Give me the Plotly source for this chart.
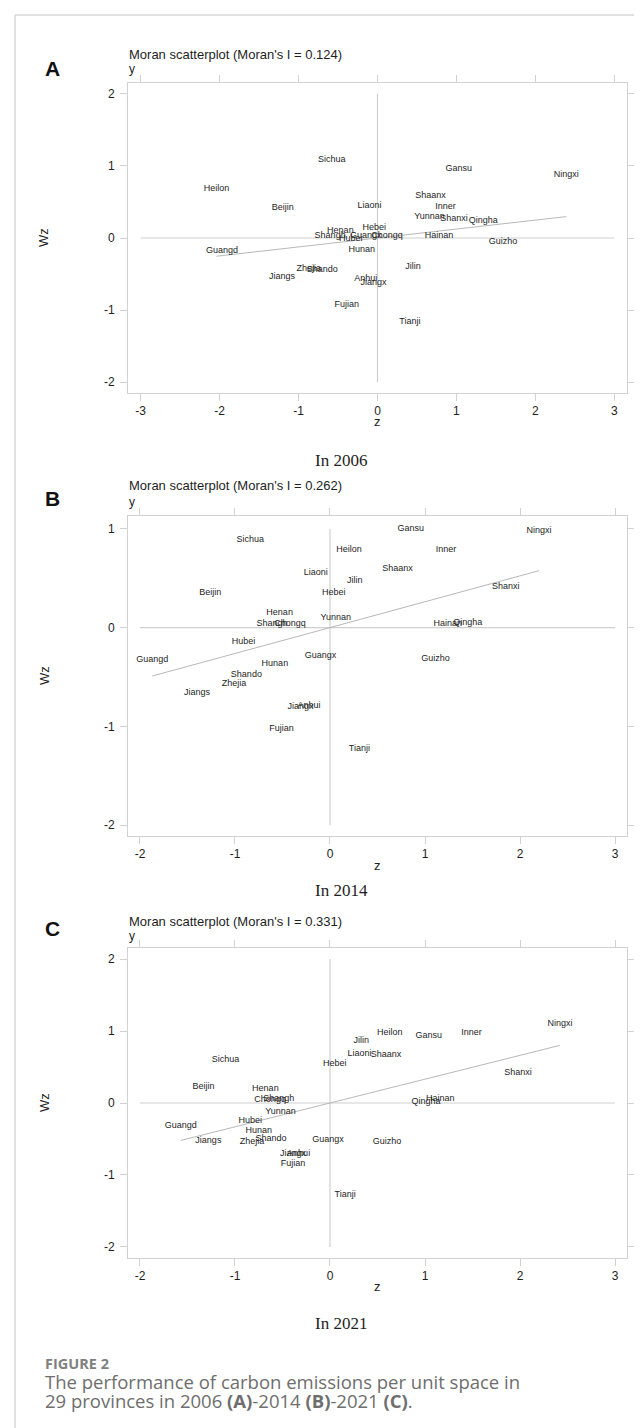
import plotly.graph_objects as go

W, H = 642, 1428

provinces = ["Beijin", "Tianji", "Hebei", "Shanxi", "Inner", "Liaoni", "Jilin", "Heilon",
             "Shangh", "Jiangs", "Zhejia", "Anhui", "Fujian", "Jiangx", "Shando", "Henan",
             "Hubei", "Hunan", "Guangd", "Guangx", "Hainan", "Chongq", "Sichua", "Guizho",
             "Yunnan", "Shaanx", "Gansu", "Qingha", "Ningxi"]

z_2006 = [-1.20, 0.41, -0.04, 0.97, 0.86, -0.10, 0.45, -2.04, -0.60, -1.21, -0.87, -0.15, -0.39, -0.05,
          -0.70, -0.47, -0.34, -0.20, -1.97, -0.15, 0.78, 0.12, -0.58, 1.59, 0.66, 0.67, 1.03, 1.34, 2.39]
wz_2006 = [0.42, -1.16, 0.14, 0.27, 0.44, 0.45, -0.40, 0.68, 0.03, -0.54, -0.42, -0.57, -0.92, -0.62,
           -0.44, 0.10, -0.01, -0.16, -0.17, 0.03, 0.03, 0.03, 1.08, -0.05, 0.30, 0.58, 0.96, 0.24, 0.88]

z_2014 = [-1.26, 0.31, 0.04, 1.85, 1.22, -0.15, 0.26, 0.20, -0.61, -1.40, -1.01, -0.22, -0.51, -0.31,
          -0.88, -0.53, -0.91, -0.58, -1.87, -0.10, 1.24, -0.42, -0.84, 1.11, 0.06, 0.71, 0.85, 1.45, 2.20]
wz_2014 = [0.35, -1.23, 0.35, 0.41, 0.79, 0.56, 0.47, 0.79, 0.04, -0.66, -0.57, -0.79, -1.02, -0.80,
           -0.48, 0.15, -0.14, -0.37, -0.33, -0.28, 0.04, 0.04, 0.89, -0.32, 0.10, 0.60, 1.00, 0.05, 0.98]

z_2021 = [-1.33, 0.16, 0.05, 1.98, 1.49, 0.31, 0.33, 0.63, -0.54, -1.28, -0.82, -0.33, -0.39, -0.39,
          -0.62, -0.68, -0.84, -0.75, -1.57, -0.02, 1.16, -0.63, -1.10, 0.60, -0.52, 0.59, 1.04, 1.01, 2.42]
wz_2021 = [0.22, -1.28, 0.55, 0.42, 0.97, 0.68, 0.86, 0.97, 0.06, -0.53, -0.54, -0.70, -0.85, -0.71,
           -0.50, 0.20, -0.25, -0.38, -0.32, -0.51, 0.06, 0.05, 0.60, -0.54, -0.12, 0.67, 0.94, 0.02, 1.10]

morans_i = [0.124, 0.262, 0.331]
years = ["2006", "2014", "2021"]
letters = ["A", "B", "C"]

x_ticks = [[-3, -2, -1, 0, 1, 2, 3], [-2, -1, 0, 1, 2, 3], [-2, -1, 0, 1, 2, 3]]
y_ticks = [[-2, -1, 0, 1, 2], [-2, -1, 0, 1], [-2, -1, 0, 1, 2]]
x_ranges = [[-3.16, 3.16], [-2.126, 3.126], [-2.126, 3.126]]
y_ranges = [[-2.15, 2.15], [-2.11, 1.13], [-2.153, 2.153]]

series = [(z_2006, wz_2006), (z_2014, wz_2014), (z_2021, wz_2021)]

# layout positions in pixels (from top): frame top/bottom, title, "y", letter, "z", year caption
frames = [(75, 385), (508, 828), (940, 1250)]
title_y = [47, 478, 914]
ylab_y = [61, 494, 928]
letter_y = [61, 490, 920]
zlab_y = [413, 857, 1278]
year_y = [452, 882, 1315]
FL, FR = 120, 619

FRAME_C = "#d2d2d2"
ZERO_C = "#d0d0d0"
FIT_C = "#b0b0b0"
TXT_C = "#1e1e1e"
FONT = "Liberation Sans, Arial, sans-serif"


def px(x):
    return x / W


def py(y):
    return 1 - y / H


def note(x, y, text, size, family=FONT, color=TXT_C, xanchor="left", angle=0):
    return dict(x=px(x), y=py(y), xref="paper", yref="paper", text=text, showarrow=False,
                xanchor=xanchor, yanchor="middle", textangle=angle,
                font=dict(family=family, size=size, color=color))


fig = go.Figure()
layout = dict(width=W, height=H, margin=dict(l=0, r=0, t=0, b=0),
              paper_bgcolor="white", plot_bgcolor="white", showlegend=False)
annotations = []
shapes = []

for i in range(3):
    sfx = "" if i == 0 else str(i + 1)
    xa, ya = "x" + sfx, "y" + sfx
    z, wz = series[i]
    fig.add_trace(go.Scatter(x=[min(x_ticks[i]), max(x_ticks[i])], y=[0, 0], mode="lines",
                             line=dict(color=ZERO_C, width=1.2), xaxis=xa, yaxis=ya, hoverinfo="skip"))
    fig.add_trace(go.Scatter(x=[0, 0], y=[min(y_ticks[i]), max(y_ticks[i])], mode="lines",
                             line=dict(color=ZERO_C, width=1.2), xaxis=xa, yaxis=ya, hoverinfo="skip"))
    zmin, zmax = min(z), max(z)
    fig.add_trace(go.Scatter(x=[zmin, zmax], y=[morans_i[i] * zmin, morans_i[i] * zmax], mode="lines",
                             line=dict(color=FIT_C, width=0.9), xaxis=xa, yaxis=ya, hoverinfo="skip"))
    fig.add_trace(go.Scatter(x=z, y=wz, mode="text", text=provinces, textposition="middle center",
                             textfont=dict(family=FONT, size=9, color=TXT_C), cliponaxis=False,
                             xaxis=xa, yaxis=ya))
    top, bot = frames[i]
    axis_common = dict(showline=True, linecolor=FRAME_C, linewidth=1, mirror="ticks",
                       ticks="outside", ticklen=7, tickcolor=FRAME_C, tickwidth=1,
                       showgrid=False, zeroline=False,
                       tickfont=dict(family=FONT, size=12, color=TXT_C))
    layout["xaxis" + sfx] = dict(axis_common, domain=[px(FL), px(FR)], range=x_ranges[i],
                                 tickvals=x_ticks[i], ticktext=[str(t) for t in x_ticks[i]],
                                 anchor=ya)
    layout["yaxis" + sfx] = dict(axis_common, domain=[py(bot), py(top)], range=y_ranges[i],
                                 tickvals=y_ticks[i], ticktext=[str(t) for t in y_ticks[i]],
                                 anchor=xa, ticklabelstandoff=3)
    annotations += [
        note(35, letter_y[i], "<b>" + letters[i] + "</b>", 21, color="#111"),
        note(FL - 1, title_y[i], "Moran scatterplot (Moran's I = %.3f)" % morans_i[i], 13),
        note(FL - 1, ylab_y[i], "y", 12),
        note(369, zlab_y[i], "z", 13, xanchor="center"),
        note(36, (top + bot) / 2, "Wz", 13, xanchor="center", angle=-90),
        note(333, year_y[i], "In " + years[i], 17, family="Liberation Serif, Times New Roman, serif",
             xanchor="center"),
    ]

CAP = "Open Sans, sans-serif"
annotations += [
    note(35, 1355, "<b>FIGURE 2</b>", 14.5, family=CAP, color="#808080"),
    note(35, 1373, "The performance of carbon emissions per unit space in", 18.5, family=CAP,
         color="#6e6e6e"),
    note(35, 1392, "29 provinces in 2006 <b>(A)</b>-2014 <b>(B)</b>-2021 <b>(C)</b>.", 18.5, family=CAP,
         color="#6e6e6e"),
]

shapes += [
    dict(type="line", xref="paper", yref="paper", x0=px(7), x1=1, y0=py(7), y1=py(7),
         line=dict(color="#d6d6d6", width=1.5)),
    dict(type="line", xref="paper", yref="paper", x0=px(7), x1=px(7), y0=py(7), y1=0,
         line=dict(color="#d6d6d6", width=1.5)),
]

layout["annotations"] = annotations
layout["shapes"] = shapes
fig.update_layout(**layout)
fig.write_html("out.html")
